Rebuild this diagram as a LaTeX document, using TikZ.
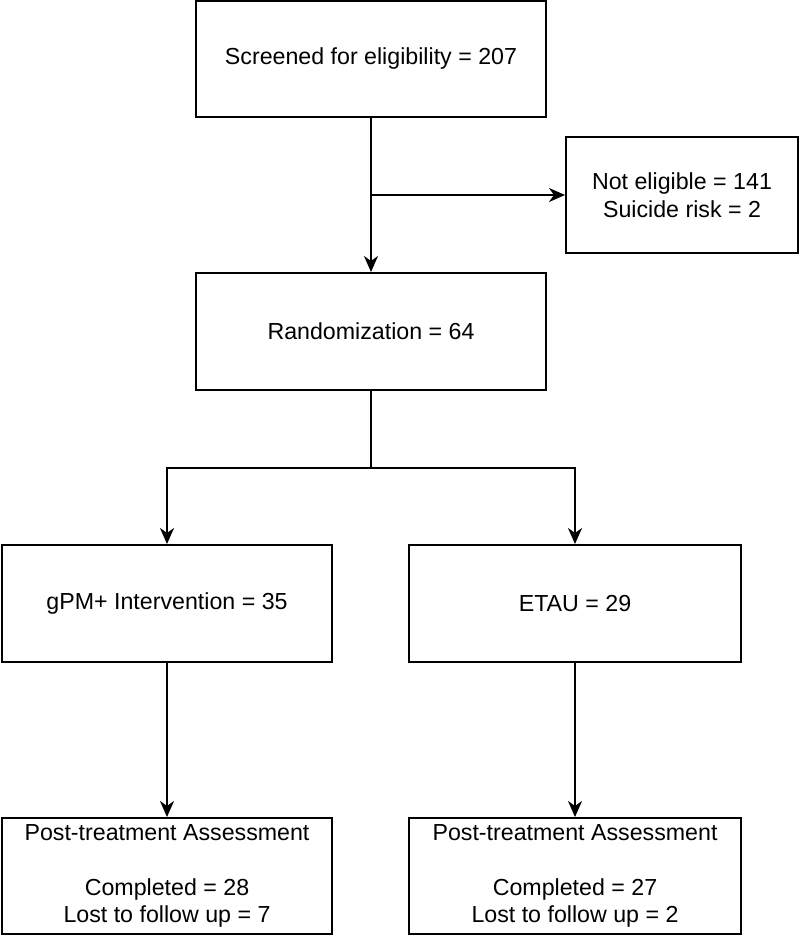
\documentclass[tikz,border=0pt]{standalone}
\usepackage{fontspec}
\setmainfont{Liberation Sans}
\usetikzlibrary{arrows.meta}
\begin{document}
\begin{tikzpicture}[x=1pt,y=-1pt,
  box/.style={draw, line width=2pt, inner sep=0pt, align=center,
    font=\fontsize{23.2}{27.5}\selectfont},
  arr/.style={line width=2pt, -{Stealth[length=16pt,width=14pt,inset=5pt]}},
  lnk/.style={line width=2pt}]
\useasboundingbox (0,0) rectangle (800,936);
\node[box, minimum width=350pt, minimum height=116pt] (scr) at (371,59) {Screened for eligibility = 207};
\node[box, minimum width=232pt, minimum height=116pt] (ne) at (682,195) {Not eligible = 141\\Suicide risk = 2};
\node[box, minimum width=350pt, minimum height=117pt] (rnd) at (371,331.5) {Randomization = 64};
\node[box, minimum width=330pt, minimum height=117pt] (gpm) at (167,603.5) {gPM+ Intervention = 35};
\node[box, minimum width=332pt, minimum height=117pt] (etau) at (575,603.5) {ETAU = 29};
\node[box, minimum width=330pt, minimum height=116pt] (pl) at (167,876) {Post-treatment Assessment\\\mbox{}\\Completed = 28\\Lost to follow up = 7};
\node[box, minimum width=332pt, minimum height=116pt] (pr) at (575,876) {Post-treatment Assessment\\\mbox{}\\Completed = 27\\Lost to follow up = 2};
\coordinate (j1) at (scr.south |- ne.west);
\coordinate (j2) at (371,467.5);
\draw[arr] (scr.south) -- (rnd.north);
\draw[arr] (j1) -- (ne.west);
\draw[lnk] (rnd.south) -- (j2);
\draw[arr] (j2) -| (gpm.north);
\draw[arr] (j2) -| (etau.north);
\draw[arr] (gpm.south) -- (pl.north);
\draw[arr] (etau.south) -- (pr.north);
\end{tikzpicture}
\end{document}
